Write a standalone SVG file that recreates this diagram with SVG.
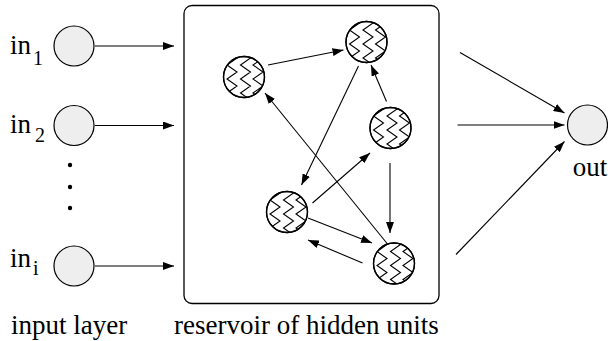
<svg xmlns="http://www.w3.org/2000/svg" xmlns:xlink="http://www.w3.org/1999/xlink" width="608" height="341" viewBox="0 0 608 341">
<style>
text{font-family:'Liberation Serif','Times New Roman',Times,serif;font-size:27px;fill:#000}
.s{font-size:20px}
.io{fill:#eeeeee;stroke:#000;stroke-width:1.2}
.hn{fill:#fff;stroke:#000;stroke-width:1.3}
.zz{fill:none;stroke:#000;stroke-width:1.1;stroke-linejoin:miter}
.e{stroke:#000;stroke-width:1.1;fill:none;marker-end:url(#ah)}
.box{fill:#fff;stroke:#000;stroke-width:1.3}
</style>
<defs>
<marker id="ah" markerUnits="userSpaceOnUse" markerWidth="12" markerHeight="8" refX="11" refY="4" orient="auto">
<path d="M0,0 L11,4 L0,8 Z" fill="#000"/>
</marker>
<clipPath id="cc"><circle r="20.5"/></clipPath>
<path id="zz" d="M-17,-26 l10,7 l-10,7 l10,7 l-10,7 l10,7 l-10,7 l10,7 l-10,7 M-3.5,-26 l10,7 l-10,7 l10,7 l-10,7 l10,7 l-10,7 l10,7 l-10,7 M9,-26 l10,7 l-10,7 l10,7 l-10,7 l10,7 l-10,7 l10,7 l-10,7"/>
</defs>
<rect width="608" height="341" fill="#fff"/>

<g id="reservoir">
<rect class="box" x="184" y="5.5" width="255" height="298" rx="8"/>
</g>

<g id="in1">
<circle class="io" cx="74" cy="46" r="20"/>
<text x="10" y="54">in<tspan class="s" x="33" y="65">1</tspan></text>
</g>
<g id="in2">
<circle class="io" cx="74" cy="125.5" r="20"/>
<text x="10" y="133">in<tspan class="s" x="35" y="142">2</tspan></text>
</g>
<g id="dots">
<circle cx="70" cy="165" r="2.2" fill="#000"/>
<circle cx="70" cy="187" r="2.2" fill="#000"/>
<circle cx="70" cy="208" r="2.2" fill="#000"/>
</g>
<g id="ini">
<circle class="io" cx="74" cy="266" r="20"/>
<text x="10" y="267">in<tspan class="s" x="33" y="275">i</tspan></text>
</g>

<g id="hA" transform="translate(244,77)"><circle class="hn" r="20.5"/><use xlink:href="#zz" class="zz" clip-path="url(#cc)"/><circle r="20.5" fill="none" stroke="#000" stroke-width="1.3"/></g>
<g id="hB" transform="translate(366.5,42)"><circle class="hn" r="20.5"/><use xlink:href="#zz" class="zz" clip-path="url(#cc)"/><circle r="20.5" fill="none" stroke="#000" stroke-width="1.3"/></g>
<g id="hC" transform="translate(390.5,128)"><circle class="hn" r="20.5"/><use xlink:href="#zz" class="zz" clip-path="url(#cc)"/><circle r="20.5" fill="none" stroke="#000" stroke-width="1.3"/></g>
<g id="hD" transform="translate(287,212)"><circle class="hn" r="20.5"/><use xlink:href="#zz" class="zz" clip-path="url(#cc)"/><circle r="20.5" fill="none" stroke="#000" stroke-width="1.3"/></g>
<g id="hE" transform="translate(394,263.5)"><circle class="hn" r="20.5"/><use xlink:href="#zz" class="zz" clip-path="url(#cc)"/><circle r="20.5" fill="none" stroke="#000" stroke-width="1.3"/></g>

<g id="out">
<circle class="io" cx="587.5" cy="125" r="20"/>
<text x="590" y="176" text-anchor="middle">out</text>
</g>

<g id="labels">
<text x="11" y="334">input layer</text>
<text x="174" y="334">reservoir of hidden units</text>
</g>

<g id="connectors">
<line class="e" x1="95" y1="46" x2="174" y2="46"/>
<line class="e" x1="95" y1="125.5" x2="174" y2="125.5"/>
<line class="e" x1="95" y1="266" x2="174" y2="266"/>
<line class="e" x1="268" y1="65" x2="343.5" y2="50"/>
<line class="e" x1="358.5" y1="66" x2="301.5" y2="185"/>
<line class="e" x1="386.5" y1="101.5" x2="371" y2="65"/>
<line class="e" x1="390" y1="163" x2="390" y2="233"/>
<line class="e" x1="312.5" y1="203" x2="370" y2="153"/>
<line class="e" x1="308" y1="218" x2="372" y2="243"/>
<line class="e" x1="362.5" y1="263" x2="308" y2="240"/>
<line class="e" x1="387.5" y1="244" x2="265" y2="93"/>
<line class="e" x1="460" y1="52.5" x2="564.5" y2="113"/>
<line class="e" x1="457.5" y1="125" x2="564.5" y2="125"/>
<line class="e" x1="456" y1="254.5" x2="564.5" y2="141.5"/>
</g>
</svg>
